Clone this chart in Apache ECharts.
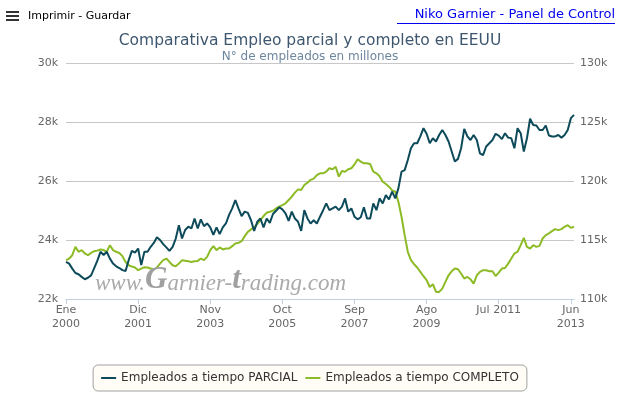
<!DOCTYPE html>
<html><head><meta charset="utf-8">
<script src="https://cdn.jsdelivr.net/npm/echarts@6/dist/echarts.min.js"></script>
<style>html,body{margin:0;padding:0;background:#fff}#c{width:620px;height:395px}</style>
</head><body><div id="c"></div><script>
const monthNames = ["Ene","Feb","Mar","Abr","May","Jun","Jul","Ago","Sep","Oct","Nov","Dic"];
const startYear = 2000;
const monthCount = 163; // Ene 2000 .. Jul 2013
const tickLabels = ["Ene\n2000","Dic\n2001","Nov\n2003","Oct\n2005","Sep\n2007","Ago\n2009","Jul 2011","Jun\n2013"];
const tickStep = 23;
const seriesNames = ["Empleados a tiempo PARCIAL","Empleados a tiempo COMPLETO"];
// miles (k)
const parcial = [
23.26,23.2,23.03,22.88,22.84,22.75,22.67,22.72,22.8,23.05,
23.3,23.6,23.49,23.6,23.37,23.2,23.11,23.05,22.98,22.95,
23.32,23.63,23.57,23.71,23.15,23.6,23.6,23.77,23.9,24.09,
24.0,23.86,23.75,23.63,23.77,24.05,24.5,24.05,24.34,24.45,
24.39,24.73,24.39,24.7,24.47,24.56,24.43,24.17,24.43,24.2,
24.43,24.56,24.85,25.07,25.35,25.07,24.81,24.96,24.92,24.67,
24.31,24.62,24.73,24.43,24.73,24.58,24.88,24.99,25.11,25.04,
24.9,24.65,24.96,24.73,24.62,24.31,25.01,24.73,24.56,24.67,
24.56,24.79,25.01,25.24,25.01,25.07,25.13,25.01,25.13,25.41,
24.96,25.07,24.79,24.7,24.77,25.11,24.73,24.73,25.24,25.01,
25.41,25.24,25.52,25.38,25.64,25.41,25.75,26.32,26.37,26.71,
27.11,27.28,27.28,27.51,27.79,27.6,27.28,27.45,27.34,27.56,
27.73,27.56,27.34,27.0,26.66,26.75,27.11,27.77,27.51,27.39,
27.56,27.39,26.94,26.88,27.17,27.28,27.39,27.6,27.54,27.42,
27.62,27.47,27.45,27.11,27.79,27.62,27.0,27.45,28.11,27.9,
27.88,27.73,27.73,27.88,27.54,27.51,27.51,27.56,27.47,27.56,
27.73,28.13,28.24
];
const completo = [
113.29,113.43,113.71,114.42,114.0,114.14,113.86,113.71,113.91,114.05,
114.1,114.2,114.15,114.0,114.56,114.14,114.0,113.9,113.63,113.14,
112.86,112.75,112.67,112.44,112.58,112.7,112.67,112.58,112.5,112.67,
113.0,113.29,113.43,113.14,112.86,112.78,113.0,113.29,113.25,113.2,
113.14,113.2,113.23,113.43,113.29,113.57,114.14,114.48,114.14,114.37,
114.2,114.28,114.28,114.48,114.71,114.76,114.9,115.33,115.69,115.9,
116.07,116.35,116.69,117.03,117.31,117.39,117.48,117.68,117.82,117.96,
118.11,118.39,118.67,119.01,119.29,119.24,119.66,119.86,120.1,120.2,
120.5,120.65,120.65,120.79,121.08,120.99,121.21,120.37,120.85,120.79,
120.99,121.08,121.4,121.84,121.64,121.5,121.5,121.44,120.79,120.65,
120.4,119.94,119.75,119.52,119.2,119.09,118.24,116.97,115.41,114.0,
113.29,112.95,112.67,112.3,111.93,111.6,111.02,111.25,110.6,110.6,
110.88,111.45,112.01,112.35,112.58,112.52,112.16,111.73,111.87,111.67,
111.31,112.01,112.3,112.44,112.44,112.35,112.35,111.95,112.24,112.58,
112.63,113.0,113.43,113.86,114.0,114.56,115.18,114.42,114.28,114.56,
114.42,114.5,115.13,115.41,115.56,115.75,115.92,115.84,115.92,116.12,
116.26,116.03,116.12
];
const leftAxis = {min: 22, max: 30, interval: 2};
const rightAxis = {min: 110, max: 130, interval: 5};

const categories = [];
for (let i = 0; i < monthCount; i++) {
  categories.push(monthNames[i % 12] + " " + (startYear + Math.floor(i / 12)));
}
const font = "'DejaVu Sans', sans-serif";
const isTick = (idx) => idx % tickStep === 0;

const chart = echarts.init(document.getElementById('c'), null, {renderer: 'canvas'});
chart.setOption({
  animation: false,
  backgroundColor: '#ffffff',
  textStyle: {fontFamily: font},
  title: [
    {text: 'Comparativa Empleo parcial y completo en EEUU', left: 'center', top: 28,
     textStyle: {fontFamily: font, fontSize: 15.5, fontWeight: 'normal', color: '#3E576F'}},
    {text: 'N° de empleados en millones', left: 'center', top: 46,
     textStyle: {fontFamily: font, fontSize: 12, fontWeight: 'normal', color: '#6D869F'}}
  ],
  grid: {left: 66, right: 46, top: 63, bottom: 96, containLabel: false},
  legend: {
    top: 365, left: 'center', padding: [7, 8], itemGap: 8,
    backgroundColor: '#fffdf5', borderColor: '#a0a0a0', borderWidth: 1, borderRadius: 5,
    icon: 'rect', itemWidth: 15, itemHeight: 2,
    textStyle: {fontFamily: font, fontSize: 12, color: '#333333'},
    data: seriesNames
  },
  xAxis: {
    type: 'category', data: categories, boundaryGap: false,
    axisLine: {lineStyle: {color: '#C0D0E0', width: 1}},
    axisTick: {show: true, interval: (idx) => isTick(idx), length: 5, lineStyle: {color: '#C0D0E0'}},
    axisLabel: {
      interval: (idx) => isTick(idx), color: '#666666', fontSize: 11, lineHeight: 14, margin: 4,
      fontFamily: font,
      formatter: (v, idx) => tickLabels[idx / tickStep] || ''
    },
    splitLine: {show: false}
  },
  yAxis: [
    {type: 'value', min: leftAxis.min, max: leftAxis.max, interval: leftAxis.interval,
     axisLine: {show: false}, axisTick: {show: false},
     axisLabel: {color: '#666666', fontSize: 11, margin: 8, fontFamily: font, formatter: (v) => v + 'k'},
     splitLine: {lineStyle: {color: '#C8C8C8', width: 1}}},
    {type: 'value', min: rightAxis.min, max: rightAxis.max, interval: rightAxis.interval,
     axisLine: {show: false}, axisTick: {show: false},
     axisLabel: {color: '#666666', fontSize: 11, margin: 6, fontFamily: font, formatter: (v) => v + 'k'},
     splitLine: {show: false}}
  ],
  series: [
    {name: seriesNames[0], type: 'line', yAxisIndex: 0, data: parcial, showSymbol: false,
     color: '#0d4a5a', lineStyle: {width: 2, color: '#0d4a5a'}, z: 3},
    {name: seriesNames[1], type: 'line', yAxisIndex: 1, data: completo, showSymbol: false,
     color: '#8cbb26', lineStyle: {width: 2, color: '#8cbb26'}, z: 2}
  ],
  graphic: [
    {type: 'rect', left: 6, top: 11, shape: {width: 13, height: 2}, style: {fill: '#333'}},
    {type: 'rect', left: 6, top: 15, shape: {width: 13, height: 2}, style: {fill: '#333'}},
    {type: 'rect', left: 6, top: 19, shape: {width: 13, height: 2}, style: {fill: '#333'}},
    {type: 'text', left: 28, top: 11, style: {text: 'Imprimir - Guardar', fontFamily: font, fontSize: 11, fill: '#000'}},
    {type: 'text', right: 5, top: 8, style: {text: 'Niko Garnier - Panel de Control', fontFamily: font, fontSize: 13, fill: '#0000ee'}},
    {type: 'line', shape: {x1: 397, y1: 23.5, x2: 615, y2: 23.5}, style: {stroke: '#0000ee', lineWidth: 1}},
    {type: 'text', left: 95, top: 264, z: 10,
     style: {
       text: '{a|www.}{b|G}{a|arnier-}{b|t}{a|rading.com}',
       rich: {
         a: {fontFamily: "'Liberation Serif', serif", fontStyle: 'italic', fontSize: 23, fill: '#aaaaaa', verticalAlign: 'bottom'},
         b: {fontFamily: "'Liberation Serif', serif", fontStyle: 'italic', fontWeight: 'bold', fontSize: 31, fill: '#a0a0a0', verticalAlign: 'bottom'}
       }
     }}
  ]
});
</script></body></html>
